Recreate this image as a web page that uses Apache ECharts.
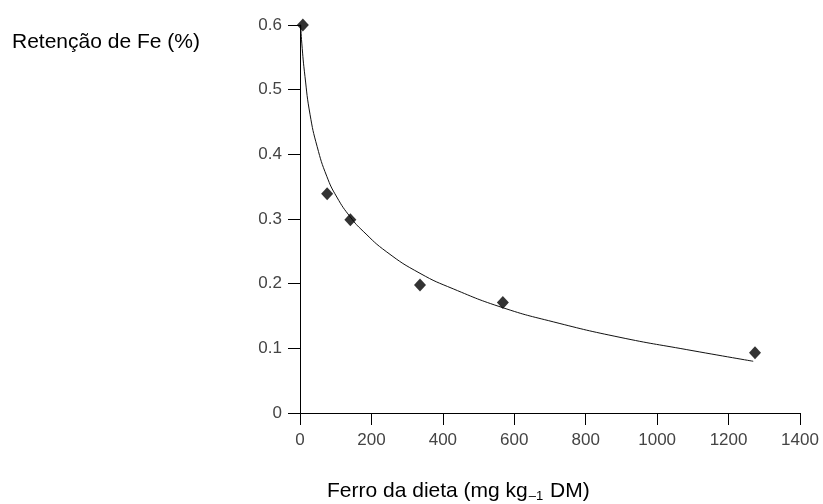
<!DOCTYPE html>
<html>
<head>
<meta charset="utf-8">
<script src="https://cdn.jsdelivr.net/npm/echarts@6/dist/echarts.min.js"></script>
<style>
  html, body { margin: 0; padding: 0; background: #fff; }
  #main { width: 823px; height: 504px; }
</style>
</head>
<body>
<div id="main"></div>
<script>
// observed points (dietary Fe, retention %)
const ironDiet = [8, 76, 141, 336, 568, 1274];
const retention = [0.6, 0.339, 0.299, 0.198, 0.171, 0.093];

// fitted curve
const curveX = [2, 5, 14, 28, 48, 75, 103, 141, 177, 243, 336, 429, 567, 709, 896, 1083, 1269];
const curveY = [0.6, 0.572, 0.52, 0.462, 0.412, 0.366, 0.334, 0.303, 0.281, 0.249, 0.216, 0.192, 0.163, 0.141, 0.117, 0.098, 0.08];

const xTicks = [0, 200, 400, 600, 800, 1000, 1200, 1400];
const yTicks = [0, 0.1, 0.2, 0.3, 0.4, 0.5, 0.6];

const chart = echarts.init(document.getElementById('main'));

const labelFont = { fontFamily: 'Liberation Sans', fontSize: 17, color: '#444' };

chart.setOption({
    animation: false,
    title: {
        text: 'Retenção de Fe (%)',
        left: 12,
        top: 32,
        padding: 0,
        textStyle: { fontFamily: 'Liberation Sans', fontSize: 21, fontWeight: 'normal', color: '#000' }
    },
    graphic: [{
        type: 'text',
        left: 457 - 130,
        top: 481,
        style: {
            text: 'Ferro da dieta (mg kg{sub|–1} DM)',
            font: '21px "Liberation Sans"',
            fill: '#000',
            rich: {
                sub: { fontFamily: 'Liberation Sans', fontSize: 13, fill: '#000', verticalAlign: 'bottom', padding: [9, 1, 0, 1] }
            }
        }
    }],
    grid: { left: 300, right: 23, top: 25, bottom: 91 },
    xAxis: {
        type: 'value',
        min: xTicks[0],
        max: xTicks[xTicks.length - 1],
        interval: 200,
        axisLine: { lineStyle: { color: '#000', width: 1 } },
        axisTick: { length: 12, lineStyle: { color: '#000' } },
        axisLabel: Object.assign({ margin: 19, formatter: v => String(v) }, labelFont),
        splitLine: { show: false }
    },
    yAxis: {
        type: 'value',
        min: yTicks[0],
        max: yTicks[yTicks.length - 1],
        interval: 0.1,
        axisLine: { show: true, lineStyle: { color: '#000', width: 1 } },
        axisTick: { show: true, length: 12, lineStyle: { color: '#000' } },
        axisLabel: Object.assign({ margin: 18, formatter: v => String(+v.toFixed(1)) }, labelFont),
        splitLine: { show: false }
    },
    series: [
        {
            type: 'line',
            data: curveX.map((x, i) => [x, curveY[i]]),
            smooth: 0.5,
            showSymbol: false,
            lineStyle: { color: '#111', width: 1 },
            z: 2
        },
        {
            type: 'scatter',
            data: ironDiet.map((x, i) => [x, retention[i]]),
            symbol: 'diamond',
            symbolSize: [12, 13],
            itemStyle: { color: '#000' },
            z: 3
        }
    ]
});
</script>
</body>
</html>
